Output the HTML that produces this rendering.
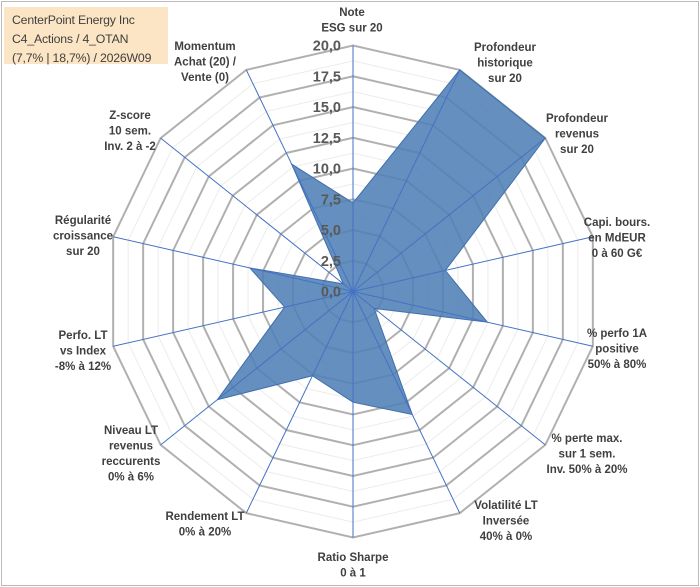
<!DOCTYPE html>
<html><head><meta charset="utf-8"><style>
body{margin:0;background:#fff}
#wrap{position:relative;width:700px;height:587px;overflow:hidden;font-family:"Liberation Sans",sans-serif}
#frame{position:absolute;left:1px;top:1px;width:696px;height:583px;border:1px solid #bbb}
#title{position:absolute;left:4px;top:7px;width:164px;height:57px;background:#fbe5c4;color:#404040;font-size:12.3px;line-height:19px;padding-left:8px;padding-top:4px;box-sizing:border-box;white-space:nowrap;letter-spacing:-0.2px}
</style></head><body>
<div id="wrap">
<div id="frame"></div>
<div id="title">CenterPoint Energy Inc<br>C4_Actions / 4_OTAN<br>(7,7% | 18,7%) / 2026W09</div>
<svg id="svg" width="700" height="587" style="position:absolute;left:0;top:0"></svg>
</div>
<script>
const categories=[["Note","ESG sur 20"],["Profondeur","historique","sur 20"],["Profondeur","revenus","sur 20"],["Capi. bours.","en MdEUR","0 à 60 G€"],["% perfo 1A","positive","50% à 80%"],["% perte max.","sur 1 sem.","Inv. 50% à 20%"],["Volatilité LT","Inversée","40% à 0%"],["Ratio Sharpe","0 à 1"],["Rendement LT","0% à 20%"],["Niveau LT","revenus","reccurents","0% à 6%"],["Perfo. LT","vs Index","-8% à 12%"],["Régularité","croissance","sur 20"],["Z-score","10 sem.","Inv. 2 à -2"],["Momentum","Achat (20) /","Vente (0)"]];
const values=[7.2,20,20,7.7,11.2,2.2,11.1,9.0,7.6,14.1,5.7,8.6,1.0,11.5];
const tickLabels=["0,0","2,5","5,0","7,5","10,0","12,5","15,0","17,5","20,0"];
const maxVal=20;
// label anchor layout (x center, first line y center)
const labelLayout=[[352,12],[505,47],[577,118],[617,222],[617,333],[587,438],[506,505],[353,557],[205,516],[131,430],[83,335],[83,220],[130,115],[205,46]];
const cx=353,cy=291.5,R=246;
const svg=document.getElementById('svg');
const NS='http://www.w3.org/2000/svg';
const n=categories.length;
function ang(i){return -Math.PI/2+i*2*Math.PI/n;}
function pt(i,v){const r=v/maxVal*R;return [cx+r*Math.cos(ang(i)),cy+r*Math.sin(ang(i))];}
function mk(t,a){const e=document.createElementNS(NS,t);for(const k in a)e.setAttribute(k,a[k]);svg.appendChild(e);return e;}
for(let g=1;g<=16;g++){
 const v=g*1.25;const pts=[];for(let i=0;i<n;i++)pts.push(pt(i,v).join(','));
 const e=mk('polygon',{points:pts.join(' '),fill:'none',stroke:g%2==0?'#b0b0b0':'#ececec','stroke-width':g%2==0?2:1});
 
 
}
const sp=values.map((v,i)=>pt(i,v).join(','));
const poly=mk('polygon',{points:sp.join(' '),fill:'#4f7fb5','fill-opacity':0.88,stroke:'#3f6fae','stroke-width':1});


for(let i=0;i<n;i++){const p=pt(i,maxVal);
 const e=mk('line',{x1:cx,y1:cy,x2:p[0],y2:p[1],stroke:'#4472c4','stroke-width':1});
 
 
}
tickLabels.forEach((t,k)=>{const y=cy-(k*2.5)/maxVal*R;
 const e=mk('text',{x:cx-12,y:y+5,'text-anchor':'end','font-size':14.5,'font-weight':'bold',fill:'#595959'});e.textContent=t;
 
 
});
categories.forEach((lines,i)=>{
 const [x,y0]=labelLayout[i];
 const t=mk('text',{'text-anchor':'middle','font-size':11.5,'font-weight':'bold',fill:'#404040'});
 
 
 lines.forEach((l,j)=>{const ts=document.createElementNS(NS,'tspan');ts.setAttribute('x',x);ts.setAttribute('y',y0+4+j*15.5);ts.textContent=l;t.appendChild(ts);});
});
</script>
</body></html>
